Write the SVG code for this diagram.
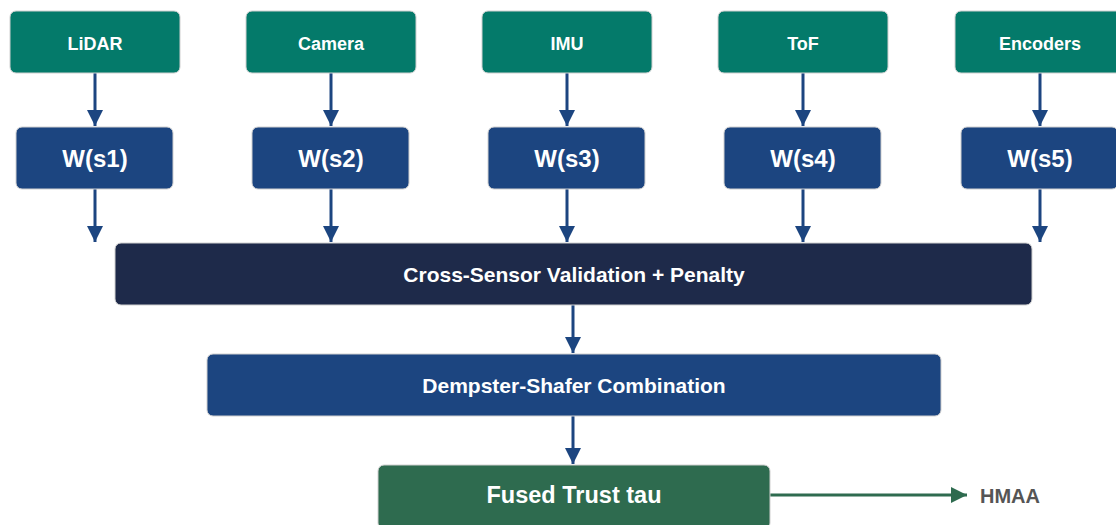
<svg xmlns="http://www.w3.org/2000/svg" width="1116" height="525" viewBox="0 0 1116 525">
<defs>
<style>
.sensor{fill:#047a6a;stroke:#d0d0d0;stroke-width:1}
.w{fill:#1c4580;stroke:#d0d0d0;stroke-width:1}
.cross{fill:#1e2a4a;stroke:#d0d0d0;stroke-width:1}
.ds{fill:#1c4580;stroke:#d0d0d0;stroke-width:1}
.fused{fill:#2e6b4f;stroke:#d0d0d0;stroke-width:1}
text{font-family:"Liberation Sans",Arial,sans-serif;font-weight:bold;fill:#ffffff;text-anchor:middle;dominant-baseline:central}
.ts{font-size:18px}
.tw{font-size:24px}
.tm{font-size:21px}
.tf{font-size:23.5px}
.out{font-size:20px;fill:#555555;text-anchor:start}
.ln{stroke:#1c4580;stroke-width:3;fill:none}
.lg{stroke:#2e6b4f;stroke-width:3;fill:none}
</style>
<marker id="ab" viewBox="0 0 10 10" refX="10" refY="5" markerWidth="5.5" markerHeight="5.5" markerUnits="strokeWidth" orient="auto">
<path d="M0,0 L10,5 L0,10 z" fill="#1c4580"/>
</marker>
<marker id="ag" viewBox="0 0 10 10" refX="10" refY="5" markerWidth="5.5" markerHeight="5.5" markerUnits="strokeWidth" orient="auto">
<path d="M0,0 L10,5 L0,10 z" fill="#2e6b4f"/>
</marker>
</defs>
<rect width="1116" height="525" fill="#ffffff"/>
<g id="connectors">
<line class="ln" x1="95" y1="73" x2="95" y2="126" marker-end="url(#ab)"/>
<line class="ln" x1="331" y1="73" x2="331" y2="126" marker-end="url(#ab)"/>
<line class="ln" x1="567" y1="73" x2="567" y2="126" marker-end="url(#ab)"/>
<line class="ln" x1="803" y1="73" x2="803" y2="126" marker-end="url(#ab)"/>
<line class="ln" x1="1040" y1="73" x2="1040" y2="126" marker-end="url(#ab)"/>
<line class="ln" x1="95" y1="189" x2="95" y2="242" marker-end="url(#ab)"/>
<line class="ln" x1="331" y1="189" x2="331" y2="242" marker-end="url(#ab)"/>
<line class="ln" x1="567" y1="189" x2="567" y2="242" marker-end="url(#ab)"/>
<line class="ln" x1="803" y1="189" x2="803" y2="242" marker-end="url(#ab)"/>
<line class="ln" x1="1040" y1="189" x2="1040" y2="242" marker-end="url(#ab)"/>
<line class="ln" x1="573" y1="305" x2="573" y2="353" marker-end="url(#ab)"/>
<line class="ln" x1="573" y1="416" x2="573" y2="464" marker-end="url(#ab)"/>
<line class="lg" x1="770" y1="495" x2="967" y2="495" marker-end="url(#ag)"/>
</g>
<g id="lidar"><rect class="sensor" x="10" y="11" width="170" height="62" rx="6"/><text class="ts" x="95" y="44">LiDAR</text></g>
<g id="camera"><rect class="sensor" x="246" y="11" width="170" height="62" rx="6"/><text class="ts" x="331" y="44">Camera</text></g>
<g id="imu"><rect class="sensor" x="482" y="11" width="170" height="62" rx="6"/><text class="ts" x="567" y="44">IMU</text></g>
<g id="tof"><rect class="sensor" x="718" y="11" width="170" height="62" rx="6"/><text class="ts" x="803" y="44">ToF</text></g>
<g id="encoders"><rect class="sensor" x="955" y="11" width="170" height="62" rx="6"/><text class="ts" x="1040" y="44">Encoders</text></g>
<g id="w1"><rect class="w" x="16" y="127" width="157" height="62" rx="6"/><text class="tw" x="95" y="158">W(s1)</text></g>
<g id="w2"><rect class="w" x="252" y="127" width="157" height="62" rx="6"/><text class="tw" x="331" y="158">W(s2)</text></g>
<g id="w3"><rect class="w" x="488" y="127" width="157" height="62" rx="6"/><text class="tw" x="567" y="158">W(s3)</text></g>
<g id="w4"><rect class="w" x="724" y="127" width="157" height="62" rx="6"/><text class="tw" x="803" y="158">W(s4)</text></g>
<g id="w5"><rect class="w" x="961" y="127" width="157" height="62" rx="6"/><text class="tw" x="1040" y="158">W(s5)</text></g>
<g id="cross"><rect class="cross" x="115" y="243" width="917" height="62" rx="6"/><text class="tm" x="574" y="274">Cross-Sensor Validation + Penalty</text></g>
<g id="dempster"><rect class="ds" x="207" y="354" width="734" height="62" rx="6"/><text class="tm" x="574" y="385">Dempster-Shafer Combination</text></g>
<g id="fused"><rect class="fused" x="378" y="465" width="392" height="64" rx="6"/><text class="tf" x="574" y="495">Fused Trust tau</text></g>
<g id="hmaa"><text class="out" x="980" y="496">HMAA</text></g>
</svg>
